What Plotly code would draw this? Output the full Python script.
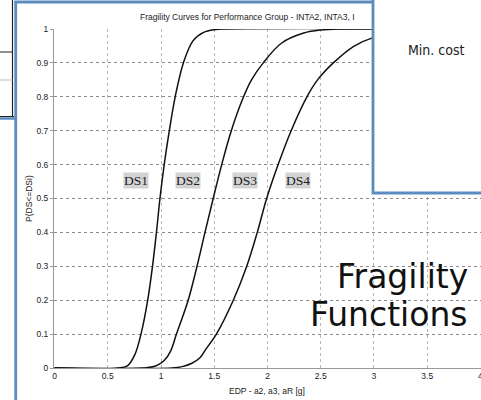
import plotly.graph_objects as go

# ---- data ----
ds1_x = [0.0, 0.60, 0.69, 0.755, 0.812, 0.875, 0.92, 0.957, 0.99, 1.03, 1.078, 1.133, 1.21, 1.30, 1.40, 1.50, 1.62, 4.0]
ds1_y = [0.0, 0.0, 0.008, 0.04, 0.1, 0.2, 0.3, 0.4, 0.5, 0.6, 0.7, 0.8, 0.9, 0.965, 0.99, 0.998, 1.0, 1.0]

ds2_x = [0.0, 0.83, 0.95, 1.03, 1.09, 1.145, 1.255, 1.338, 1.413, 1.49, 1.57, 1.66, 1.775, 1.85, 1.96, 2.13, 2.34, 2.50, 2.70, 4.0]
ds2_y = [0.0, 0.0, 0.006, 0.022, 0.05, 0.1, 0.2, 0.3, 0.4, 0.5, 0.6, 0.7, 0.8, 0.85, 0.9, 0.958, 0.988, 0.997, 1.0, 1.0]

ds3_x = [0.0, 1.10, 1.20, 1.29, 1.366, 1.42, 1.52, 1.679, 1.805, 1.904, 1.992, 2.10, 2.222, 2.37, 2.47, 2.618, 2.81, 2.98, 3.30, 3.70, 4.0]
ds3_y = [0.0, 0.0, 0.004, 0.014, 0.03, 0.055, 0.1, 0.2, 0.3, 0.4, 0.5, 0.6, 0.7, 0.8, 0.85, 0.9, 0.949, 0.973, 0.991, 0.998, 1.0]

label_text = ["DS1", "DS2", "DS3", "DS4"]
label_x = [0.762, 1.256, 1.788, 2.282]
label_y = [0.552, 0.552, 0.552, 0.552]

x_ticks = [0, 0.5, 1, 1.5, 2, 2.5, 3, 3.5, 4]
x_tick_text = ["0", "0.5", "1", "1.5", "2", "2.5", "3", "3.5", "4"]
y_ticks = [0, 0.1, 0.2, 0.3, 0.4, 0.5, 0.6, 0.7, 0.8, 0.9, 1]
y_tick_text = ["0", "0.1", "0.2", "0.3", "0.4", "0.5", "0.6", "0.7", "0.8", "0.9", "1"]

title_text = "Fragility Curves for Performance Group - INTA2, INTA3, I"
x_title = "EDP - a2, a3, aR [g]"
y_title = "P(DS<=DSi)"

# ---- layout geometry (pixels) ----
W, H = 481, 400
L, R, T, B = 54, 0, 29, 32
PW, PH = W - L - R, H - T - B


def px(x):
    return (x - L) / PW


def py(y):
    return (H - B - y) / PH


BLUE = "#5b8cbf"
LINE = "#111111"

fig = go.Figure()
for xs, ys, nm in [(ds1_x, ds1_y, "DS1"), (ds2_x, ds2_y, "DS2"), (ds3_x, ds3_y, "DS3")]:
    fig.add_trace(go.Scatter(x=xs, y=ys, mode="lines", name=nm,
                             line=dict(color=LINE, width=1.5, shape="spline", smoothing=1.0),
                             hoverinfo="skip", showlegend=False))

shapes = [
    # background window (top-left)
    dict(type="line", xref="paper", yref="paper", x0=px(12.5), x1=px(12.5), y0=py(0), y1=py(117),
         line=dict(color="#222", width=1.2), layer="above"),
    dict(type="line", xref="paper", yref="paper", x0=px(0), x1=px(12.5), y0=py(52), y1=py(52),
         line=dict(color="#222", width=1), layer="above"),
    dict(type="line", xref="paper", yref="paper", x0=px(0), x1=px(12.5), y0=py(80), y1=py(80),
         line=dict(color="#bbb", width=1), layer="above"),
    dict(type="line", xref="paper", yref="paper", x0=px(0), x1=px(14), y0=py(116.5), y1=py(116.5),
         line=dict(color="#222", width=1), layer="above"),
    dict(type="line", xref="paper", yref="paper", x0=px(0), x1=px(16), y0=py(118.5), y1=py(118.5),
         line=dict(color=BLUE, width=2.5), layer="above"),
    # main window borders
    dict(type="line", xref="paper", yref="paper", x0=px(15.7), x1=px(15.7), y0=py(1), y1=py(402),
         line=dict(color=BLUE, width=2.8), layer="above"),
    dict(type="line", xref="paper", yref="paper", x0=px(14.5), x1=px(374), y0=py(2), y1=py(2),
         line=dict(color=BLUE, width=2.8), layer="above"),
    # "Min. cost" window
    dict(type="rect", xref="paper", yref="paper", x0=px(373), x1=px(490), y0=py(-10), y1=py(193),
         fillcolor="white", line=dict(color=BLUE, width=2.8), layer="above"),
]

annotations = [
    dict(text=title_text, xref="paper", yref="paper", x=px(138), y=py(17), xanchor="left", yanchor="middle",
         showarrow=False, font=dict(family="Liberation Sans, Arial", size=8.5, color="#222")),
    dict(text=x_title, xref="paper", yref="paper", x=px(266.5), y=py(390.5), xanchor="center", yanchor="middle",
         showarrow=False, font=dict(family="Liberation Sans, Arial", size=8.5, color="#222")),
    dict(text=y_title, xref="paper", yref="paper", x=px(29), y=py(199), xanchor="center", yanchor="middle",
         textangle=-90, showarrow=False, font=dict(family="Liberation Sans, Arial", size=8.5, color="#222")),
    dict(text="Min. cost", xref="paper", yref="paper", x=px(436), y=py(50), xanchor="center", yanchor="middle",
         showarrow=False, font=dict(family="DejaVu Sans Condensed, DejaVu Sans", size=14, color="#222")),
    dict(text="Fragility", xref="paper", yref="paper", x=px(470), y=py(276), xanchor="right", yanchor="middle",
         showarrow=False, font=dict(family="DejaVu Sans, Verdana", size=33, color="#111")),
    dict(text="Functions", xref="paper", yref="paper", x=px(470), y=py(314.5), xanchor="right", yanchor="middle",
         showarrow=False, font=dict(family="DejaVu Sans, Verdana", size=33, color="#111")),
]
for t, x, y in zip(label_text, label_x, label_y):
    annotations.append(dict(text=t, x=x, y=y, xref="x", yref="y", showarrow=False,
                            font=dict(family="Liberation Serif, Times New Roman", size=13.5, color="#222"),
                            bgcolor="#d3d3d3", borderpad=0))

fig.update_layout(
    width=W, height=H, margin=dict(l=L, r=R, t=T, b=B, autoexpand=False),
    paper_bgcolor="white", plot_bgcolor="white",
    shapes=shapes, annotations=annotations, showlegend=False,
    xaxis=dict(range=[-0.005, 4.005], tickvals=x_ticks, ticktext=x_tick_text, showgrid=True,
               gridcolor="#b8b8b8", griddash="dot", gridwidth=1, zeroline=False,
               showline=True, linecolor="#999", linewidth=1, ticks="", ticklabeloverflow="allow",
               tickfont=dict(family="Liberation Sans, Arial", size=8.5, color="#222")),
    yaxis=dict(range=[0, 1], tickvals=y_ticks, ticktext=y_tick_text, showgrid=True,
               gridcolor="#8a8a8a", griddash="dot", gridwidth=1, zeroline=False,
               showline=True, linecolor="#999", linewidth=1, ticks="outside", ticklen=3,
               tickcolor="#999", tickfont=dict(family="Liberation Sans, Arial", size=8.5, color="#222")),
)

fig.write_html("out.html", config={"displayModeBar": False},
               post_script="document.body.style.margin='0';document.body.style.overflow='hidden';")
